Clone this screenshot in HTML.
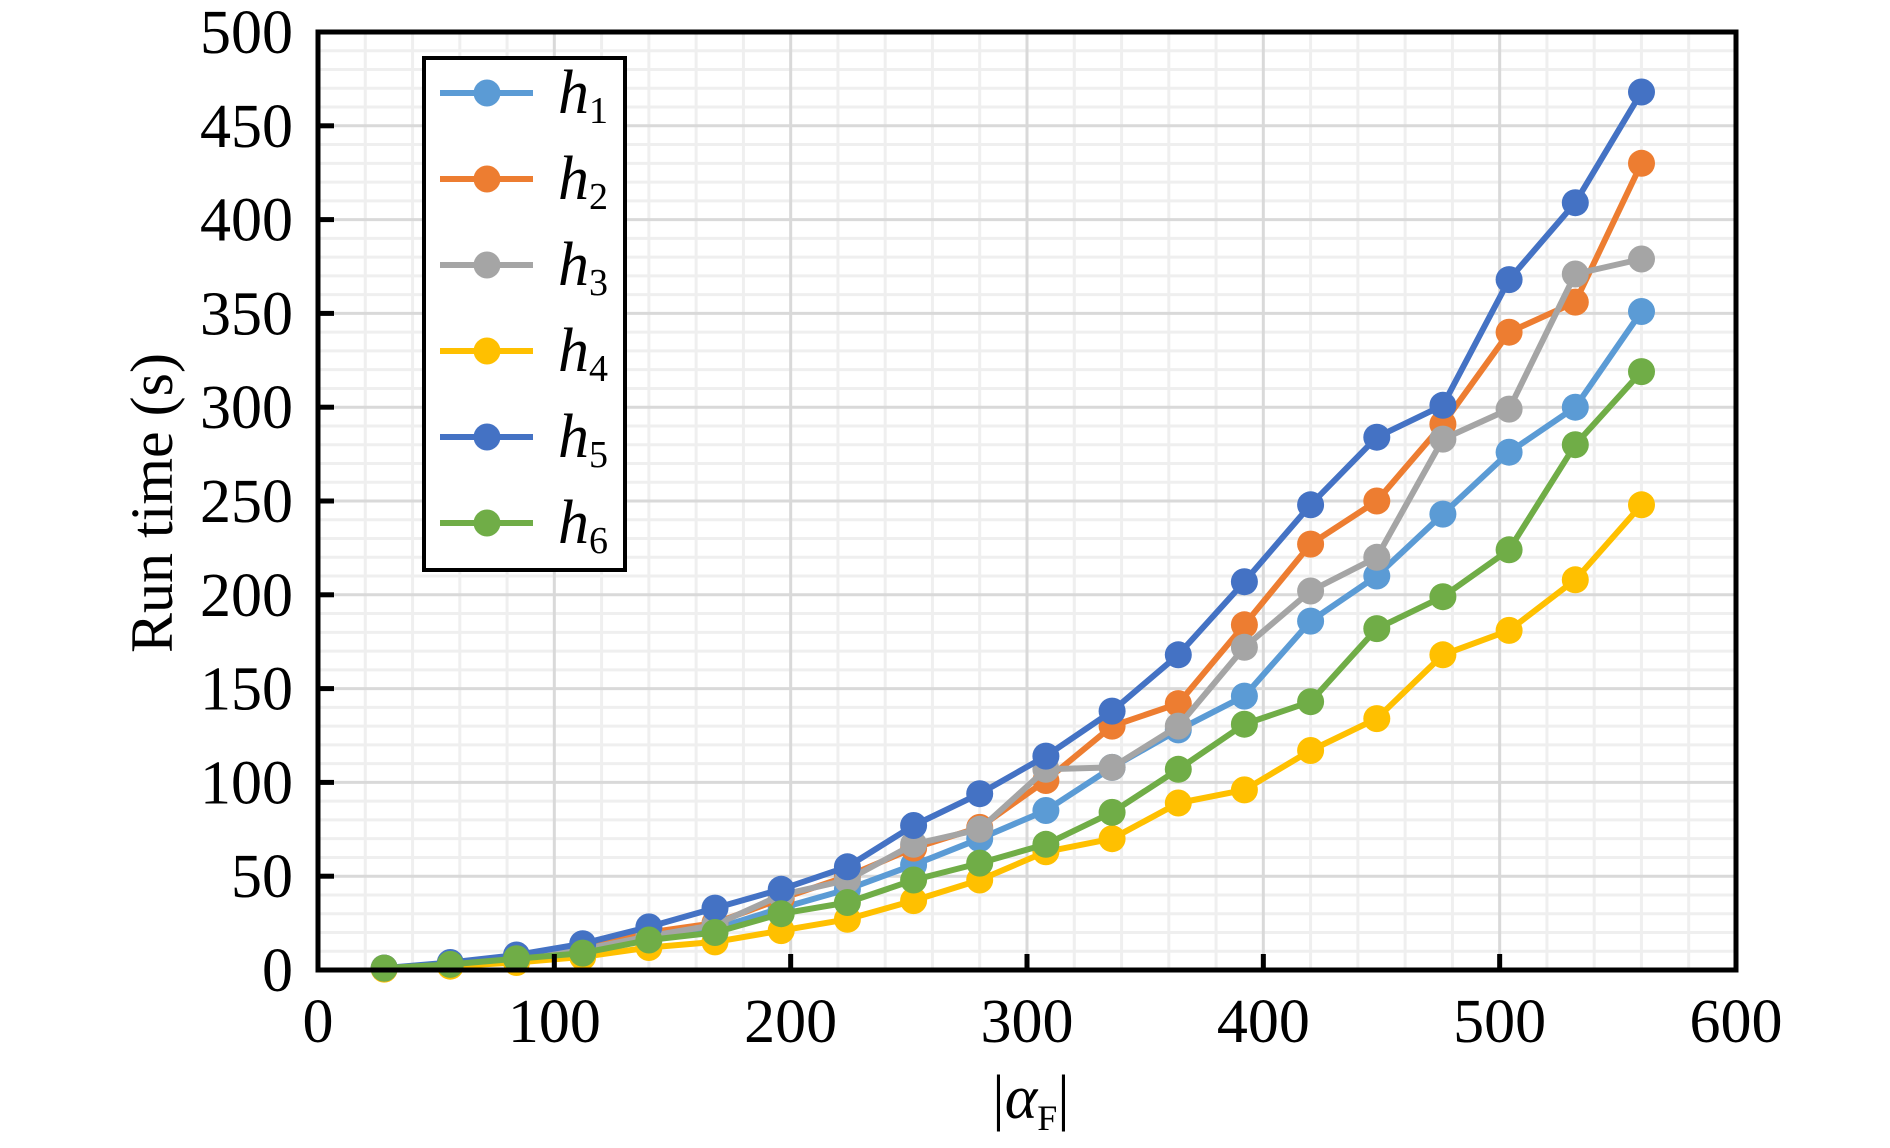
<!DOCTYPE html>
<html><head><meta charset="utf-8"><style>
html,body{margin:0;padding:0;background:#fff;}
svg{display:block;}
svg text{font-family:"Liberation Serif","Times New Roman",Times,serif;}
</style></head><body>
<svg id="s" width="1890" height="1148" viewBox="0 0 1890 1148" xmlns="http://www.w3.org/2000/svg" font-family="Liberation Serif, Times New Roman, serif"></svg>
<script>
const s=document.getElementById('s');
const L=318,R=1736,B=970,T=32;
const X=v=>L+v*(R-L)/600, Y=v=>B-v*(B-T)/500;
let h='';
for(let v=20;v<600;v+=20){if(v%100)h+=`<line x1="${X(v)}" x2="${X(v)}" y1="${T}" y2="${B}" stroke="#efefef" stroke-width="3"/>`;}
for(let v=10;v<500;v+=10){if(v%50)h+=`<line y1="${Y(v)}" y2="${Y(v)}" x1="${L}" x2="${R}" stroke="#efefef" stroke-width="3"/>`;}
for(let v=100;v<600;v+=100)h+=`<line x1="${X(v)}" x2="${X(v)}" y1="${T}" y2="${B}" stroke="#d9d9d9" stroke-width="3"/>`;
for(let v=50;v<500;v+=50)h+=`<line y1="${Y(v)}" y2="${Y(v)}" x1="${L}" x2="${R}" stroke="#d9d9d9" stroke-width="3"/>`;
const xs=[];for(let i=1;i<=20;i++)xs.push(28*i);
const data=[
['#5B9BD5',[351,300,276,243,210,186,146,128,108,85,70,56,43,33,22,17,10,6,2.5,1]],
['#ED7D31',[430,356,340,291,250,227,184,142,130,101,76,65,50,38,25,20,13,7,3,1]],
['#A5A5A5',[379,371,299,283,220,202,172,130,108,107,75,67,48,40,24,18,11,6,3,1]],
['#FFC000',[248,208,181,168,134,117,96,89,70,63,48,37,27,21,15,12,7,4,2,0.5]],
['#4472C4',[468,409,368,301,284,248,207,168,138,114,94,77,55,43,33,23,14,8,4,1]],
['#70AD47',[319,280,224,199,182,143,131,107,84,67,57,48,36,30,20,16,9,6,3,1]]];
data.forEach(([c,d])=>{d=d.slice().reverse();
 const pts=d.map((v,i)=>`${X(xs[i]).toFixed(1)},${Y(v).toFixed(1)}`).join(' ');
 h+=`<polyline points="${pts}" fill="none" stroke="${c}" stroke-width="6" stroke-linejoin="round"/>`;
 d.forEach((v,i)=>h+=`<circle cx="${X(xs[i]).toFixed(1)}" cy="${Y(v).toFixed(1)}" r="13.5" fill="${c}"/>`);
});
h+=`<rect x="${L}" y="${T}" width="${R-L}" height="${B-T}" fill="none" stroke="#000" stroke-width="5"/>`;
for(let v=100;v<600;v+=100)h+=`<line x1="${X(v)}" x2="${X(v)}" y1="${B}" y2="${B-16}" stroke="#000" stroke-width="5"/>`;
for(let v=50;v<500;v+=50)h+=`<line y1="${Y(v)}" y2="${Y(v)}" x1="${L}" x2="${L+16}" stroke="#000" stroke-width="5"/>`;
for(let v=0;v<=500;v+=50)h+=`<text x="293" y="${Y(v)+21}" font-size="62" text-anchor="end">${v}</text>`;
for(let v=0;v<=600;v+=100)h+=`<text x="${X(v)}" y="1042" font-size="62" text-anchor="middle">${v}</text>`;
h+=`<text transform="translate(172,503) rotate(-90)" font-size="60" text-anchor="middle">Run time (s)</text>`;
h+=`<text x="1031" y="1118" font-size="62" text-anchor="middle">|<tspan font-style="italic">α</tspan><tspan font-size="36" dy="12">F</tspan><tspan dy="-12">|</tspan></text>`;
h+=`<rect x="424" y="58" width="201" height="512" fill="#fff" stroke="#000" stroke-width="4"/>`;
data.forEach(([c],i)=>{const y=93+i*86;
 h+=`<line x1="440" x2="533" y1="${y}" y2="${y}" stroke="${c}" stroke-width="6"/><circle cx="487" cy="${y}" r="13.5" fill="${c}"/>`;
 h+=`<text x="558" y="${y+20}" font-size="62" font-style="italic">h<tspan font-style="normal" font-size="38" dy="10">${i+1}</tspan></text>`;
});
s.innerHTML=h;
</script>
</body></html>
